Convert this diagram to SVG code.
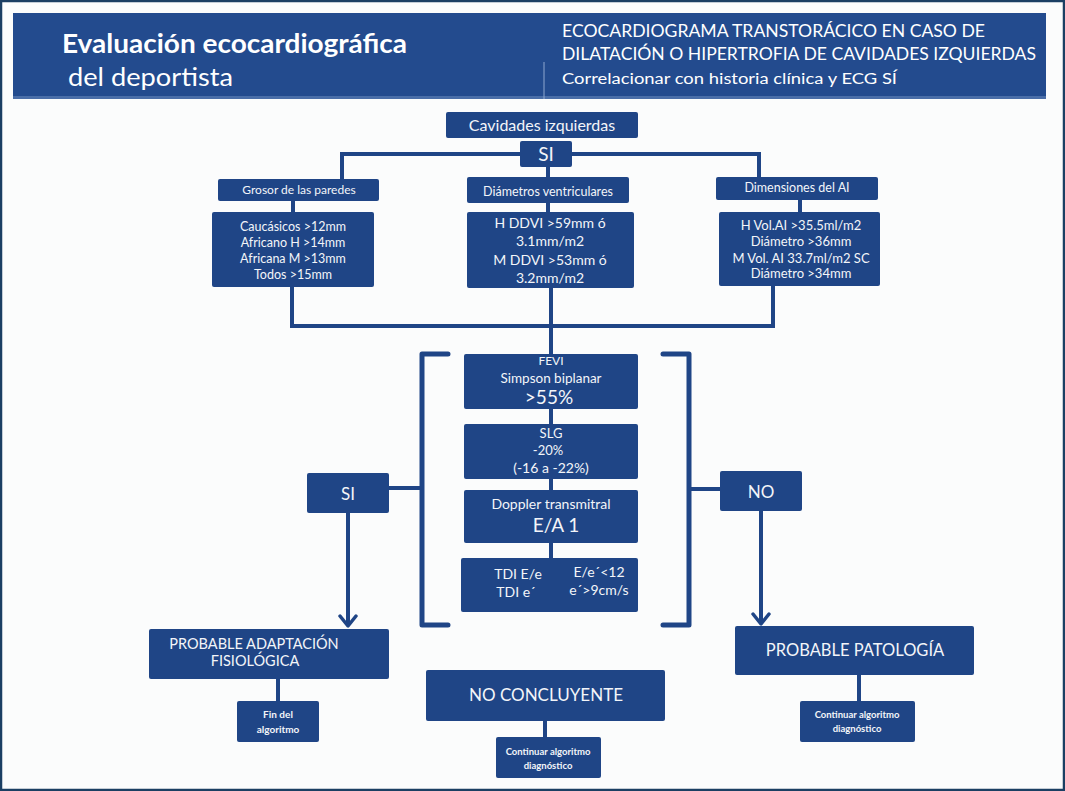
<svg xmlns="http://www.w3.org/2000/svg" width="1065" height="791" viewBox="0 0 1065 791">
<defs>
<style>
.bx{fill:#1f4586;}
.t{fill:#f3f5f9;font-family:Lato,"Liberation Sans",sans-serif;text-anchor:middle;}
.h{fill:#ffffff;font-family:Lato,"Liberation Sans",sans-serif;}
.ln{stroke:#1f4586;stroke-width:4;fill:none;}
.br{stroke:#1f4586;stroke-width:5;fill:none;stroke-linecap:round;stroke-linejoin:round;}
.b{font-weight:bold;}
</style>
<marker id="arr" viewBox="-2 -2 14 20" refX="10" refY="8" markerWidth="14" markerHeight="20" markerUnits="userSpaceOnUse" orient="auto">
<path d="M0,0 L10,8 L0,16" fill="none" stroke="#1f4586" stroke-width="3.5" stroke-linecap="round" stroke-linejoin="round"/>
</marker>
</defs>
<rect x="0" y="0" width="1065" height="791" fill="#fbfcfc"/>
<rect x="1" y="1" width="1063" height="789" fill="none" stroke="#1b3f63" stroke-width="2.5"/>

<g id="header">
<rect x="13" y="13" width="1033" height="86" fill="#234b8e"/>
<rect x="13" y="96" width="1033" height="3" fill="#4a6ea8"/>
<line x1="544" y1="62" x2="544" y2="99" stroke="#8fa8cf" stroke-width="1"/>
<text class="h b" x="62" y="53" font-size="26" textLength="345" lengthAdjust="spacingAndGlyphs">Evaluación ecocardiográfica</text>
<text class="h" x="68" y="86" font-size="25" textLength="165" lengthAdjust="spacingAndGlyphs">del deportista</text>
<text class="h" x="562" y="37" font-size="17" textLength="423" lengthAdjust="spacingAndGlyphs">ECOCARDIOGRAMA TRANSTORÁCICO EN CASO DE</text>
<text class="h" x="562" y="60" font-size="17" textLength="474" lengthAdjust="spacingAndGlyphs">DILATACIÓN O HIPERTROFIA DE CAVIDADES IZQUIERDAS</text>
<text class="h" x="562" y="84" font-size="15.5" textLength="335" lengthAdjust="spacingAndGlyphs">Correlacionar con historia clínica y ECG SÍ</text>
</g>

<g id="connectors">
<polyline class="ln" points="342,179 342,154 759,154 759,177"/>
<line class="ln" x1="548" y1="167" x2="548" y2="178"/>
<line class="ln" x1="293" y1="201" x2="293" y2="212"/>
<line class="ln" x1="548" y1="203" x2="548" y2="212"/>
<line class="ln" x1="800" y1="200" x2="800" y2="212"/>
<polyline class="ln" points="292,287 292,326 773,326 773,286"/>
<line class="ln" x1="551" y1="288" x2="551" y2="354"/>
<line class="ln" x1="551" y1="409" x2="551" y2="424"/>
<line class="ln" x1="551" y1="479" x2="551" y2="490"/>
<line class="ln" x1="551" y1="543" x2="551" y2="558"/>
<polyline class="br" points="448,354 422,354 422,625 448,625"/>
<polyline class="br" points="663,354 689,354 689,625 663,625"/>
<line class="ln" x1="389" y1="488" x2="422" y2="488"/>
<line class="ln" x1="689" y1="489" x2="720" y2="489"/>
<line class="ln" x1="348" y1="513" x2="348" y2="626" marker-end="url(#arr)"/>
<line class="ln" x1="761" y1="511" x2="761" y2="624" marker-end="url(#arr)"/>
<line class="ln" x1="278" y1="679" x2="278" y2="701"/>
<line class="ln" x1="545" y1="721" x2="545" y2="737"/>
<line class="ln" x1="859" y1="675" x2="859" y2="701"/>
</g>

<g id="cavidades">
<rect class="bx" x="446" y="112" width="192" height="26" rx="2"/>
<text class="t" x="542" y="131" font-size="16">Cavidades izquierdas</text>
</g>
<g id="si-top">
<rect class="bx" x="520" y="141" width="52" height="26" rx="2"/>
<text class="t" x="546" y="161" font-size="19">SI</text>
</g>

<g id="grosor">
<rect class="bx" x="218" y="179" width="161" height="22" rx="2"/>
<text class="t" x="299" y="194" font-size="12">Grosor de las paredes</text>
</g>
<g id="grosor-val">
<rect class="bx" x="212" y="212" width="162" height="75" rx="2"/>
<text class="t" x="293" y="231" font-size="12.5">Caucásicos &gt;12mm</text>
<text class="t" x="293" y="247" font-size="12.5">Africano H &gt;14mm</text>
<text class="t" x="293" y="263" font-size="12.5">Africana M &gt;13mm</text>
<text class="t" x="293" y="279" font-size="12.5">Todos &gt;15mm</text>
</g>

<g id="diametros">
<rect class="bx" x="467" y="177" width="162" height="26" rx="2"/>
<text class="t" x="548" y="196" font-size="12.5">Diámetros ventriculares</text>
</g>
<g id="diametros-val">
<rect class="bx" x="467" y="212" width="167" height="76" rx="2"/>
<text class="t" x="550" y="228" font-size="14">H DDVI &gt;59mm ó</text>
<text class="t" x="550" y="246" font-size="14">3.1mm/m2</text>
<text class="t" x="550" y="265" font-size="14">M DDVI &gt;53mm ó</text>
<text class="t" x="550" y="283" font-size="14">3.2mm/m2</text>
</g>

<g id="dimensiones">
<rect class="bx" x="716" y="177" width="162" height="23" rx="2"/>
<text class="t" x="797" y="192" font-size="12.5">Dimensiones del AI</text>
</g>
<g id="dimensiones-val">
<rect class="bx" x="719" y="212" width="161" height="74" rx="2"/>
<text class="t" x="801" y="230" font-size="13">H  Vol.AI &gt;35.5ml/m2</text>
<text class="t" x="801" y="246" font-size="13">Diámetro &gt;36mm</text>
<text class="t" x="801" y="263" font-size="13">M Vol. AI 33.7ml/m2 SC</text>
<text class="t" x="801" y="278" font-size="13">Diámetro &gt;34mm</text>
</g>

<g id="fevi">
<rect class="bx" x="464" y="354" width="174" height="55" rx="2"/>
<text class="t" x="551" y="365" font-size="12">FEVI</text>
<text class="t" x="551" y="383" font-size="13.5">Simpson biplanar</text>
<text class="t" x="549" y="404" font-size="19">&gt;55%</text>
</g>
<g id="slg">
<rect class="bx" x="464" y="424" width="174" height="55" rx="2"/>
<text class="t" x="551" y="438" font-size="13">SLG</text>
<text class="t" x="548" y="455" font-size="13">-20%</text>
<text class="t" x="551" y="473" font-size="14">(-16 a -22%)</text>
</g>
<g id="doppler">
<rect class="bx" x="464" y="490" width="174" height="53" rx="2"/>
<text class="t" x="551" y="509" font-size="14">Doppler transmitral</text>
<text class="t" x="556" y="532" font-size="19">E/A 1</text>
</g>
<g id="tdi">
<rect class="bx" x="461" y="558" width="177" height="54" rx="2"/>
<text class="t" x="518" y="579" font-size="14">TDI  E/e</text>
<text class="t" x="516" y="597" font-size="14">TDI e´</text>
<text class="t" x="599" y="577" font-size="14">E/e´&lt;12</text>
<text class="t" x="599" y="595" font-size="14">e´&gt;9cm/s</text>
</g>

<g id="si">
<rect class="bx" x="307" y="473" width="82" height="40" rx="2"/>
<text class="t" x="348" y="500" font-size="17">SI</text>
</g>
<g id="no">
<rect class="bx" x="720" y="471" width="82" height="40" rx="2"/>
<text class="t" x="761" y="498" font-size="17">NO</text>
</g>

<g id="adaptacion">
<rect class="bx" x="149" y="629" width="240" height="50" rx="2"/>
<text class="t" x="254" y="649" font-size="14.5">PROBABLE ADAPTACIÓN</text>
<text class="t" x="255" y="666" font-size="14.5">FISIOLÓGICA</text>
</g>
<g id="fin">
<rect class="bx" x="237" y="701" width="82" height="41" rx="2"/>
<text class="t b" x="278" y="718" font-size="10">Fin del</text>
<text class="t b" x="278" y="733" font-size="10">algoritmo</text>
</g>

<g id="no-concluyente">
<rect class="bx" x="426" y="670" width="239" height="51" rx="2"/>
<text class="t" x="546" y="701" font-size="17">NO CONCLUYENTE</text>
</g>
<g id="continuar-mid">
<rect class="bx" x="496" y="737" width="105" height="41" rx="2"/>
<text class="t b" x="548" y="755" font-size="9.5">Continuar algoritmo</text>
<text class="t b" x="548" y="769" font-size="9.5">diagnóstico</text>
</g>

<g id="patologia">
<rect class="bx" x="735" y="626" width="239" height="49" rx="2"/>
<text class="t" x="855" y="656" font-size="16.5">PROBABLE PATOLOGÍA</text>
</g>
<g id="continuar-right">
<rect class="bx" x="800" y="701" width="115" height="41" rx="2"/>
<text class="t b" x="857" y="718" font-size="9.5">Continuar algoritmo</text>
<text class="t b" x="857" y="732" font-size="9.5">diagnóstico</text>
</g>
</svg>
